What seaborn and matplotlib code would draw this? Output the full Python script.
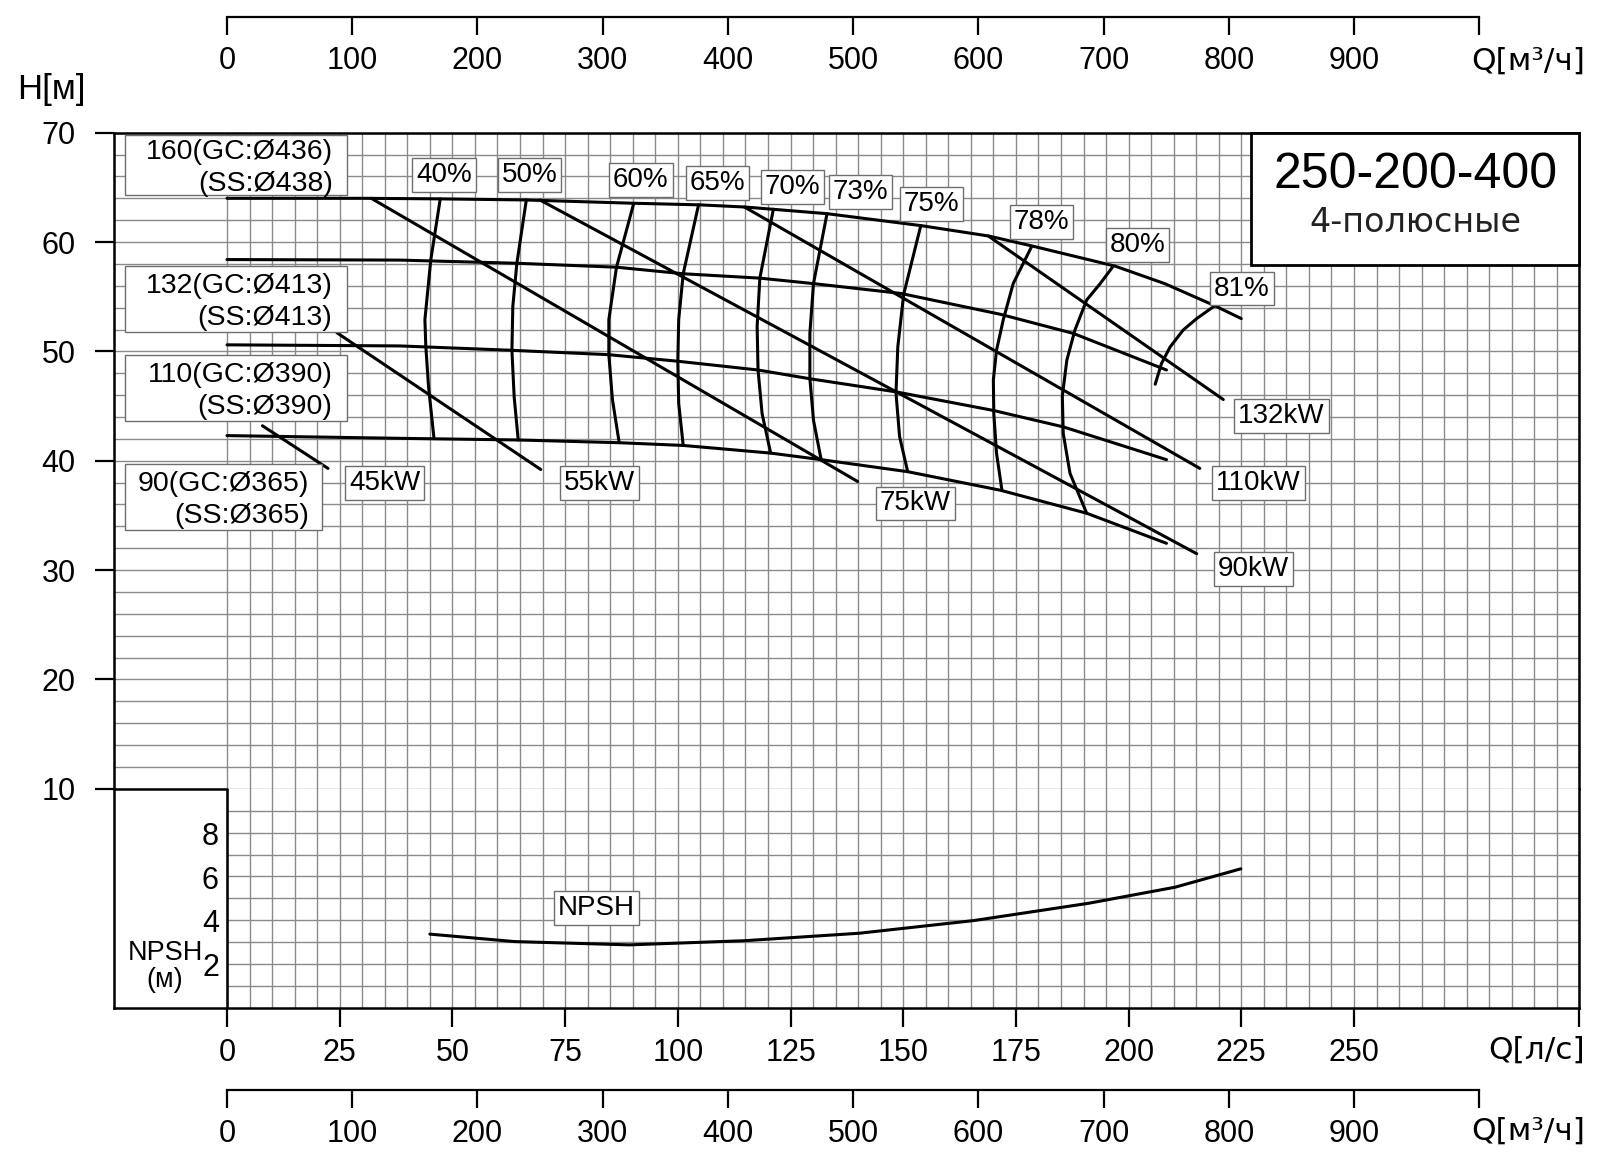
import numpy as np
import matplotlib
matplotlib.use("Agg")
import matplotlib.pyplot as plt
from matplotlib.patches import Rectangle
import seaborn as sns

# --- données (Q en l/s, H en m) ---
q_436 = [0, 30, 47, 66, 90, 105, 115, 121, 133, 154, 169, 179, 197, 208, 219, 225]
h_436 = [64.0, 64.0, 63.95, 63.85, 63.55, 63.4, 63.2, 63.0, 62.6, 61.5, 60.55, 59.6, 57.8, 56.2, 54.2, 53.0]
q_413 = [0, 38.4, 64.3, 86.4, 101.2, 118.2, 130.1, 149.5, 171.5, 187.7, 208.4]
h_413 = [58.4, 58.35, 58.06, 57.7, 57.1, 56.7, 56.2, 55.3, 53.4, 51.65, 48.3]
q_390 = [0, 38.4, 63.2, 84.7, 100, 117.8, 129.3, 148.4, 170, 185.5, 208.4]
h_390 = [50.6, 50.5, 50.1, 49.7, 49.1, 48.3, 47.5, 46.3, 44.6, 43.1, 40.1]
q_365 = [0, 38.4, 64.6, 87, 101.2, 120.6, 131.8, 151, 171.6, 190.7, 208.4]
h_365 = [42.3, 42.05, 41.9, 41.65, 41.4, 40.7, 40.1, 39.0, 37.3, 35.2, 32.45]
impeller_labels = ["160(GC:Ø436)\n(SS:Ø438)", "132(GC:Ø413)\n(SS:Ø413)",
                   "110(GC:Ø390)\n(SS:Ø390)", "90(GC:Ø365)\n(SS:Ø365)"]

# iso-rendement
q_e40 = [47.3, 45.2, 43.9, 44.1, 44.7, 45.9]
h_e40 = [63.94, 58.36, 52.9, 50.5, 46.8, 42.1]
q_e50 = [66.4, 64.3, 63.4, 63.2, 63.7, 64.6]
h_e50 = [63.85, 58.06, 54.1, 50.1, 45.85, 41.9]
q_e60 = [90.2, 86.4, 84.7, 84.7, 85.5, 87.0]
h_e60 = [63.5, 57.7, 52.9, 49.7, 45.6, 41.65]
q_e65 = [104.6, 101.2, 100.2, 100.0, 100.2, 101.2]
h_e65 = [63.4, 57.1, 52.9, 49.1, 45.25, 41.4]
q_e70 = [121.2, 118.2, 117.6, 117.8, 118.7, 120.6]
h_e70 = [63.0, 56.7, 52.3, 48.3, 44.3, 40.7]
q_e73 = [133.1, 130.1, 129.3, 129.3, 130.1, 131.8]
h_e73 = [62.6, 56.2, 51.65, 47.5, 43.7, 40.1]
q_e75 = [153.9, 150.1, 148.8, 148.4, 149.2, 151.0]
h_e75 = [61.5, 55.2, 50.4, 46.2, 42.2, 39.0]
q_e78 = [178.5, 174.4, 172.2, 170.7, 170.0, 170.1, 170.7, 171.9]
h_e78 = [59.6, 56.2, 52.9, 50.1, 47.4, 44.3, 40.7, 37.3]
q_e80 = [196.6, 193.7, 190.7, 188.1, 186.3, 185.3, 185.5, 187.0, 190.7]
h_e80 = [57.8, 56.2, 54.7, 51.96, 49.2, 45.9, 42.5, 38.85, 35.2]
q_e81 = [219.2, 215.1, 212.1, 209.2, 207.3, 205.9]
h_e81 = [54.2, 53.0, 51.95, 50.4, 48.9, 47.0]
eff_labels = ["40%", "50%", "60%", "65%", "70%", "73%", "75%", "78%", "80%", "81%"]

# puissance absorbée
q_p45, h_p45 = [7.85, 22.4], [43.2, 39.3]
q_p55, h_p55 = [24.4, 69.6], [51.7, 39.2]
q_p75, h_p75 = [32.0, 139.9], [64.0, 38.1]
q_p90, h_p90 = [69.4, 215.1], [63.85, 31.5]
q_p110, h_p110 = [114.8, 215.8], [63.2, 39.3]
q_p132, h_p132 = [168.9, 221.0], [60.55, 45.6]
power_labels = ["45kW", "55kW", "75kW", "90kW", "110kW", "132kW"]

# NPSH requis
q_npsh = [45.0, 63.8, 89.3, 114.8, 140.2, 165.7, 191.2, 210.3, 224.9]
npsh = [3.37, 3.03, 2.88, 3.07, 3.41, 3.99, 4.78, 5.51, 6.35]

h_ticks = [10, 20, 30, 40, 50, 60, 70]
npsh_ticks = [2, 4, 6, 8]
ls_ticks = [0, 25, 50, 75, 100, 125, 150, 175, 200, 225, 250, 300]
m3h_ticks = [0, 100, 200, 300, 400, 500, 600, 700, 800, 900, 1000]

# --- style ---
sns.set_style("white")
plt.rcParams["font.family"] = ["Liberation Sans", "DejaVu Sans"]
plt.rcParams["text.color"] = "black"
plt.rcParams["xtick.color"] = "black"
plt.rcParams["ytick.color"] = "black"
plt.rcParams["xtick.labelcolor"] = "black"
plt.rcParams["ytick.labelcolor"] = "black"
ALT = ["DejaVu Sans"]
GRID = "#8a8a8a"
LW = 2.2
TICK_FS = 22

W, H = 1600, 1164
fig = plt.figure(figsize=(16, 11.64), dpi=100)


def fx(px):
    return px / W


def fy(py):
    return 1 - py / H


X0, X1 = 114.3, 1579.4
ax_h = fig.add_axes([fx(X0), fy(788.8), fx(X1) - fx(X0), fy(132.7) - fy(788.8)])
ax_n = fig.add_axes([fx(X0), fy(1008), fx(X1) - fx(X0), fy(788.8) - fy(1008)])

# axe H
ax_h.set_xlim(-25, 300)
ax_h.set_ylim(10, 70)
ax_h.set_xticks(np.arange(0, 301, 5))
ax_h.set_yticks(h_ticks)
ax_h.set_yticks(np.arange(10, 71, 2), minor=True)
ax_h.grid(True, which="both", color=GRID, lw=1.0)
ax_h.tick_params(axis="x", length=0, labelbottom=False)
ax_h.tick_params(axis="y", which="major", direction="out", length=13.7, width=1.6,
                 pad=14, labelsize=TICK_FS, left=True)
ax_h.tick_params(axis="y", which="minor", length=0)
ax_h.spines["bottom"].set_visible(False)
for s in ["left", "top", "right"]:
    ax_h.spines[s].set_color("black")
    ax_h.spines[s].set_linewidth(1.8)

# axe NPSH
ax_n.set_xlim(-25, 300)
ax_n.set_ylim(0, 10)
ax_n.set_xticks(ls_ticks)
ax_n.set_xticklabels([str(v) for v in ls_ticks[:-1]] + [""])
ax_n.set_xticks(np.arange(0, 301, 5), minor=True)
ax_n.set_yticks([])
ax_n.grid(True, axis="x", which="both", color=GRID, lw=1.0)
ax_n.hlines(np.arange(1, 10), 0, 300, color=GRID, lw=1.0, zorder=0.5)
ax_n.tick_params(axis="x", which="major", direction="out", length=13.7, width=1.6,
                 pad=8, labelsize=TICK_FS, bottom=True)
ax_n.tick_params(axis="x", which="minor", length=0)
ax_n.spines["top"].set_visible(False)
for s in ["left", "bottom", "right"]:
    ax_n.spines[s].set_color("black")
    ax_n.spines[s].set_linewidth(1.8)
ax_n.axvline(0, color="black", lw=1.8, zorder=3)
ax_n.plot([-25, 0], [10, 10], color="black", lw=1.8, clip_on=False, zorder=3)
for v in npsh_ticks:
    ax_n.text(-1.8, v - 0.19, str(v), ha="right", va="center", fontsize=TICK_FS)
ax_n.text(-13.75, 1.89, "NPSH\n(м)", ha="center", va="center", fontsize=19.5,
          linespacing=1.05)


# axes en m³/h (haut et bas)
def flow_axis(py):
    a = fig.add_axes([fx(X0), fy(py), fx(X1) - fx(X0), 0.0001])
    a.set_xlim(-25 * 3.6, 300 * 3.6)
    a.set_ylim(0, 1)
    for s in ["top", "left", "right"]:
        a.spines[s].set_visible(False)
    a.spines["bottom"].set_bounds(0, 1000)
    a.spines["bottom"].set_linewidth(1.6)
    a.spines["bottom"].set_color("black")
    a.set_xticks(m3h_ticks)
    a.set_xticklabels([str(v) for v in m3h_ticks[:-1]] + [""])
    a.set_yticks([])
    a.patch.set_visible(False)
    a.tick_params(axis="x", direction="out", length=13, width=1.6, pad=8,
                  labelsize=TICK_FS, bottom=True, color="black")
    return a


flow_axis(17.3)
flow_axis(1090)

# courbes H-Q
head_curves = [(q_436, h_436), (q_413, h_413), (q_390, h_390), (q_365, h_365)]
eff_curves = [(q_e40, h_e40), (q_e50, h_e50), (q_e60, h_e60), (q_e65, h_e65),
              (q_e70, h_e70), (q_e73, h_e73), (q_e75, h_e75), (q_e78, h_e78),
              (q_e80, h_e80), (q_e81, h_e81)]
power_curves = [(q_p45, h_p45), (q_p55, h_p55), (q_p75, h_p75), (q_p90, h_p90),
                (q_p110, h_p110), (q_p132, h_p132)]
for q, h in head_curves + eff_curves + power_curves:
    sns.lineplot(x=q, y=h, ax=ax_h, color="black", linewidth=LW, sort=False,
                 estimator=None, legend=False, zorder=3)
sns.lineplot(x=q_npsh, y=npsh, ax=ax_n, color="black", linewidth=LW, sort=False,
             estimator=None, legend=False, zorder=3)
ax_h.set_xlabel("")
ax_h.set_ylabel("")
ax_n.set_xlabel("")
ax_n.set_ylabel("")

box = dict(boxstyle="square,pad=0.14", fc="white", ec="#6e6e6e", lw=1.0)

eff_pos = [(48.1, 66.1), (67.1, 66.1), (91.8, 65.7), (108.8, 65.4), (125.5, 65.0),
           (140.5, 64.6), (156.3, 63.5), (180.7, 61.8), (202.0, 59.7), (225.1, 55.75)]
for lab, (x, y) in zip(eff_labels, eff_pos):
    ax_h.text(x, y, lab, ha="center", va="center", fontsize=20, bbox=box, zorder=6)

pow_pos = [(35.0, 38.0), (82.7, 38.0), (152.7, 36.1), (227.6, 30.1), (228.8, 38.0),
           (233.9, 44.1)]
for lab, (x, y) in zip(power_labels, pow_pos):
    ax_h.text(x, y, lab, ha="center", va="center", fontsize=20, bbox=box, zorder=6)

ax_n.text(81.95, 4.55, "NPSH", ha="center", va="center", fontsize=20, bbox=box, zorder=6)

# cartouches des diamètres (x0, x1, y0, y1, bord droit du texte)
imp_boxes = [(-22.7, 26.55, 64.28, 69.77, 23.6), (-22.7, 26.55, 51.8, 57.8, 23.4),
             (-22.7, 26.55, 43.66, 49.67, 23.4), (-22.7, 21.0, 33.67, 39.7, 18.2)]
for lab, (x0, x1, y0, y1, xr) in zip(impeller_labels, imp_boxes):
    ax_h.add_patch(Rectangle((x0, y0), x1 - x0, y1 - y0, fc="white", ec="#6e6e6e",
                             lw=1.0, zorder=5))
    ax_h.text(xr, (y0 + y1) / 2 - 0.25, lab, ha="right", va="center",
              multialignment="right", fontsize=20.5, linespacing=1.3, zorder=6)

# cartouche du modèle
ax_h.add_patch(Rectangle((0.7759, 0.7984), 1 - 0.7759, 1 - 0.7984, transform=ax_h.transAxes,
                         fc="white", ec="black", lw=2.0, zorder=5, clip_on=False))
ax_h.text(0.888, 0.9355, "250-200-400", transform=ax_h.transAxes, ha="center",
          va="center", fontsize=36, zorder=6)
ax_h.text(0.888, 0.8624, "4-полюсные", transform=ax_h.transAxes, ha="center",
          va="center", fontsize=24, family=ALT, color="#222222", zorder=6)

# titres d'axes
fig.text(fx(51.7), fy(90), "H[м]", ha="center", va="center", fontsize=25)
fig.text(fx(1585), fy(61), "Q[м³/ч]", ha="right", va="center", fontsize=22.5, family=ALT)
fig.text(fx(1585), fy(1050), "Q[л/с]", ha="right", va="center", fontsize=22.5, family=ALT)
fig.text(fx(1585), fy(1131), "Q[м³/ч]", ha="right", va="center", fontsize=22.5, family=ALT)

fig.savefig("out.png", dpi=100)
